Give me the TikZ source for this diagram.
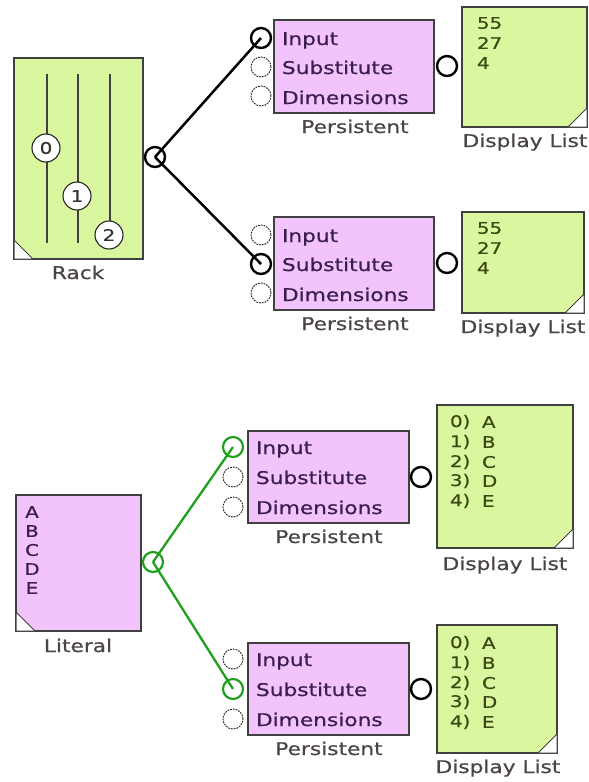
\documentclass[tikz,border=0pt]{standalone}
\usepackage{fontspec}
\newfontfamily\vf[FakeStretch=1.24,FakeBold=0.6]{DejaVu Sans}
\begin{document}
\begin{tikzpicture}[x=1pt,y=-1pt,
  every node/.style={inner sep=0pt,outer sep=0pt},
  greenbox/.style={draw=boxline,fill=greenfill,line width=1.4pt},
  pinkbox/.style={draw=boxline,fill=pinkfill,line width=1.4pt},
  freeport/.style={circle,minimum size=20pt,draw=black!80,line width=1pt,dash pattern=on 1.8pt off 1pt},
  blackport/.style={circle,minimum size=20pt,draw=black,line width=2.4pt},
  greenport/.style={circle,minimum size=20pt,draw=wiregreen,line width=2.2pt},
  intext/.style={anchor=base west,font=\vf\fontsize{17.5}{20}\selectfont,text=intextc},
  lbl/.style={anchor=base,font=\vf\fontsize{17.5}{20}\selectfont,text=lblc},
  dtext/.style={anchor=west,font=\vf\fontsize{16}{18}\selectfont,text=dtextc},
  knob/.style={circle,minimum size=28pt,draw=black!85,line width=1.1pt,fill=white,font=\vf\fontsize{16}{18}\selectfont,text=black!80},
  corner/.style={fill=white,draw=boxline,line width=1pt},
  blackwire/.style={draw=black,line width=2.5pt},
  greenwire/.style={draw=wiregreen,line width=2.3pt}]
\definecolor{greenfill}{HTML}{DAF79F}
\definecolor{pinkfill}{HTML}{F2C4FB}
\definecolor{boxline}{HTML}{404040}
\definecolor{wiregreen}{HTML}{1FA01F}
\definecolor{intextc}{HTML}{3A1E4E}
\definecolor{lblc}{HTML}{4A4444}
\definecolor{dtextc}{HTML}{3C4A12}
\useasboundingbox (0,0) rectangle (589,782);
\fill[white] (0,0) rectangle (589,782);

% ---------------- Rack ----------------
\node[greenbox,anchor=north west,minimum width=129pt,minimum height=201pt] (rack) at (14,58) {};
\draw[corner] (14,259) -- (33,259) -- (14,240) -- cycle;
\foreach \x in {47,78,110} \draw[black!75,line width=1.6pt] (\x,74) -- (\x,243);
\node[knob] (k0) at (46,148) {0};
\node[knob] (k1) at (77,196) {1};
\node[knob] (k2) at (109,235) {2};
\node[lbl] at (78,279) {Rack};
\node[blackport] (rackout) at (155,157) {};

% ---------------- Persistent 1 ----------------
\node[pinkbox,anchor=north west,minimum width=160pt,minimum height=93pt] (pa) at (274,20) {};
\node[blackport] (pain) at (261,38) {};
\node[freeport] (pasub) at (261,67) {};
\node[freeport] (padim) at (261,96) {};
\node[intext] at (282,45) {Input};
\node[intext] at (282,74) {Substitute};
\node[intext] at (282,104) {Dimensions};
\node[blackport] (paout) at (447,66) {};
\node[lbl] at (355,133) {Persistent};

\node[greenbox,anchor=north west,minimum width=125pt,minimum height=120pt] (da) at (462,7) {};
\draw[corner] (587,127) -- (568,127) -- (587,108) -- cycle;
\node[dtext] at (477,23) {55};
\node[dtext] at (477,43) {27};
\node[dtext] at (477,63) {4};
\node[lbl] at (525,147) {Display List};

% ---------------- Persistent 2 ----------------
\node[pinkbox,anchor=north west,minimum width=160pt,minimum height=93pt] (pb) at (274,217) {};
\node[freeport] (pbin) at (261,235) {};
\node[blackport] (pbsub) at (261,264) {};
\node[freeport] (pbdim) at (261,293) {};
\node[intext] at (282,242) {Input};
\node[intext] at (282,271) {Substitute};
\node[intext] at (282,301) {Dimensions};
\node[blackport] (pbout) at (447,263) {};
\node[lbl] at (355,330) {Persistent};

\node[greenbox,anchor=north west,minimum width=122pt,minimum height=101pt] (db) at (462,212) {};
\draw[corner] (584,313) -- (565,313) -- (584,294) -- cycle;
\node[dtext] at (477,228) {55};
\node[dtext] at (477,248) {27};
\node[dtext] at (477,268) {4};
\node[lbl] at (523,333) {Display List};

\draw[blackwire] (rackout.center) -- (pain.center);
\draw[blackwire] (rackout.center) -- (pbsub.center);

% ---------------- Literal ----------------
\node[pinkbox,anchor=north west,minimum width=125pt,minimum height=136pt] (lit) at (16,495) {};
\draw[corner] (16,631) -- (35,631) -- (16,612) -- cycle;
\foreach \l/\y in {A/512,B/531,C/550,D/569,E/588}
  \node[anchor=center,font=\vf\fontsize{16}{18}\selectfont,text=intextc] at (32,\y) {\l};
\node[lbl] at (78,652) {Literal};
\node[greenport] (litout) at (153,562) {};

% ---------------- Persistent 3 ----------------
\node[pinkbox,anchor=north west,minimum width=161pt,minimum height=92pt] (pc) at (248,431) {};
\node[greenport] (pcin) at (233,447) {};
\node[freeport] (pcsub) at (233,477) {};
\node[freeport] (pcdim) at (233,507) {};
\node[intext] at (256,454) {Input};
\node[intext] at (256,484) {Substitute};
\node[intext] at (256,514) {Dimensions};
\node[blackport] (pcout) at (421,477) {};
\node[lbl] at (329,543) {Persistent};

\node[greenbox,anchor=north west,minimum width=136pt,minimum height=143pt] (dc) at (437,405) {};
\draw[corner] (573,548) -- (554,548) -- (573,529) -- cycle;
\foreach \n/\l/\y in {0/A/422,1/B/442,2/C/462,3/D/481,4/E/501} {
  \node[dtext] at (450,\y) {\n)};
  \node[dtext] at (482,\y) {\l};
}
\node[lbl] at (505,570) {Display List};

% ---------------- Persistent 4 ----------------
\node[pinkbox,anchor=north west,minimum width=161pt,minimum height=92pt] (pd) at (248,643) {};
\node[freeport] (pdin) at (233,659) {};
\node[greenport] (pdsub) at (233,689) {};
\node[freeport] (pddim) at (233,719) {};
\node[intext] at (256,666) {Input};
\node[intext] at (256,696) {Substitute};
\node[intext] at (256,726) {Dimensions};
\node[blackport] (pdout) at (421,689) {};
\node[lbl] at (329,755) {Persistent};

\node[greenbox,anchor=north west,minimum width=120pt,minimum height=128pt] (dd) at (437,625) {};
\draw[corner] (557,753) -- (538,753) -- (557,734) -- cycle;
\foreach \n/\l/\y in {0/A/643,1/B/663,2/C/683,3/D/702,4/E/722} {
  \node[dtext] at (450,\y) {\n)};
  \node[dtext] at (482,\y) {\l};
}
\node[lbl] at (498,773) {Display List};

\draw[greenwire] (litout.center) -- (pcin.center);
\draw[greenwire] (litout.center) -- (pdsub.center);
\end{tikzpicture}
\end{document}
